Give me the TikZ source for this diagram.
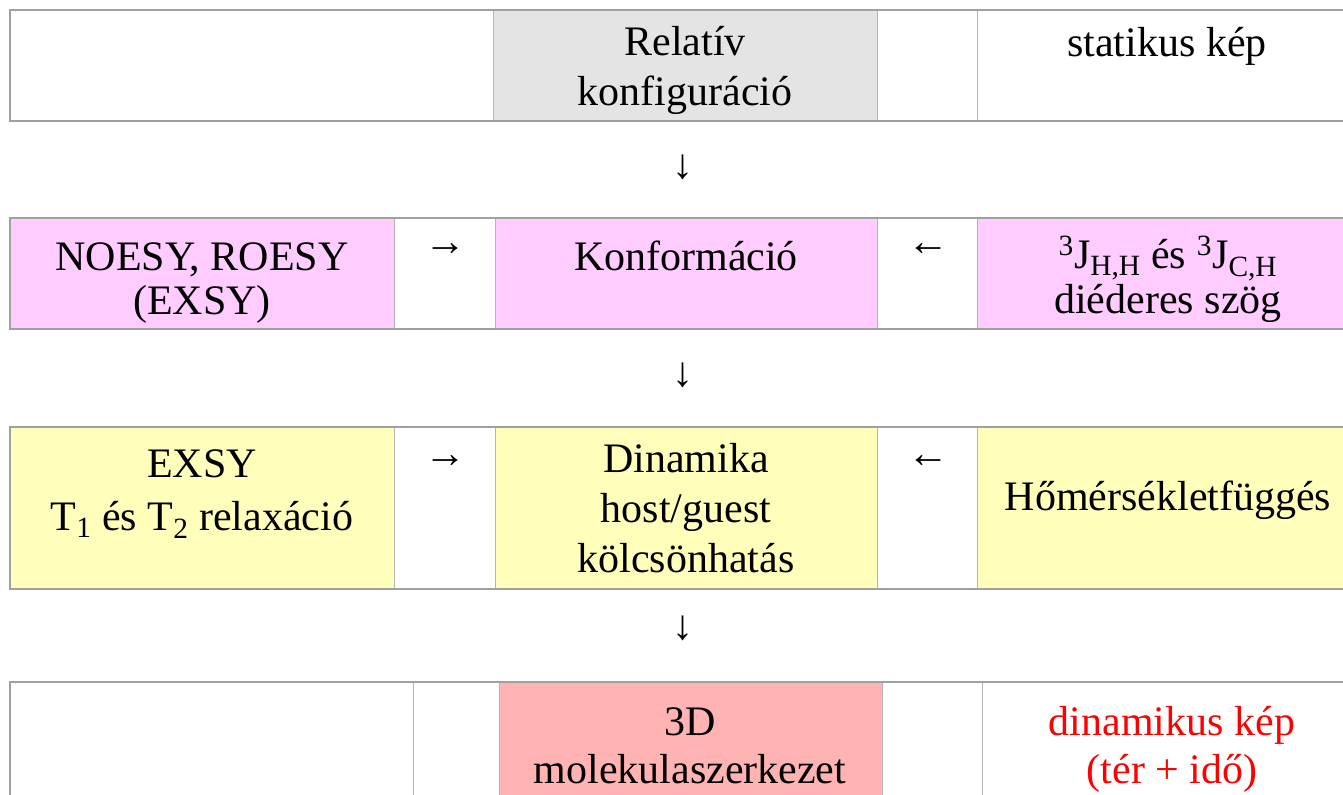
\documentclass[tikz,border=0pt]{standalone}
\usepackage{fontspec}
\setmainfont{Liberation Serif}

\definecolor{framegray}{RGB}{160,160,160}
\definecolor{linegray}{RGB}{180,180,180}
\definecolor{cellgray}{RGB}{228,228,228}
\definecolor{cellpink}{RGB}{255,204,255}
\definecolor{cellyellow}{RGB}{255,255,187}
\definecolor{cellred}{RGB}{255,179,179}

\begin{document}
\begin{tikzpicture}[
    x=0.75pt, y=-0.75pt,
    cell/.style={draw=linegray,line width=0.75pt},
    frame/.style={draw=framegray,line width=1.5pt},
    every node/.style={inner sep=0pt,align=center,
        font=\fontsize{31.5}{37.5}\selectfont}
]

\useasboundingbox (0,0) rectangle (1343,795);

% row 1
\draw[cell,fill=white]    (10,10)  rectangle (493,121);
\draw[cell,fill=cellgray] (493,10) rectangle (877,121);
\draw[cell,fill=white]    (877,10) rectangle (977,121);
\draw[cell,fill=white]    (977,10) rectangle (1360,121);
\draw[frame] (10,10) rectangle (1360,121);

% row 2
\draw[cell,fill=cellpink] (10,218)  rectangle (394,329);
\draw[cell,fill=white]    (394,218) rectangle (495,329);
\draw[cell,fill=cellpink] (495,218) rectangle (877,329);
\draw[cell,fill=white]    (877,218) rectangle (977,329);
\draw[cell,fill=cellpink] (977,218) rectangle (1360,329);
\draw[frame] (10,218) rectangle (1360,329);

% row 3
\draw[cell,fill=cellyellow] (10,427)  rectangle (394,589);
\draw[cell,fill=white]      (394,427) rectangle (495,589);
\draw[cell,fill=cellyellow] (495,427) rectangle (877,589);
\draw[cell,fill=white]      (877,427) rectangle (977,589);
\draw[cell,fill=cellyellow] (977,427) rectangle (1360,589);
\draw[frame] (10,427) rectangle (1360,589);

% row 4
\draw[cell,fill=white]   (10,682)  rectangle (413,830);
\draw[cell,fill=white]   (413,682) rectangle (499,830);
\draw[cell,fill=cellred] (499,682) rectangle (882,830);
\draw[cell,fill=white]   (882,682) rectangle (982,830);
\draw[cell,fill=white]   (982,682) rectangle (1360,830);
\draw[frame] (10,682) rectangle (1360,830);

% base = last line
\node[anchor=base] (relconf) at (685,106) {Relatív\\konfiguráció};
\node[anchor=base] (static) at (1167,57) {statikus kép};
\node (down1) at (683,167) {↓};

\node[anchor=base] (noesy) at (202,315) {NOESY, ROESY\\[-4.5pt](EXSY)};
\node (right1) at (445,250) {→};
\node[anchor=base] (conform) at (686,271) {Konformáció};
\node (left1) at (928,250) {←};
\node[anchor=base] (jcoup) at (1168,313)
    {\textsuperscript{3}J\textsubscript{H,H} és \textsuperscript{3}J\textsubscript{C,H}\\[-3.75pt]diéderes szög};
\node (down2) at (683,375) {↓};

\node[anchor=base] (relax) at (202,530)
    {EXSY\\[2.25pt]T\textsubscript{1} és T\textsubscript{2} relaxáció};
\node (right2) at (445,462) {→};
\node[anchor=base] (dynamic) at (686,572) {Dinamika\\host/guest\\kölcsönhatás};
\node (left2) at (928,462) {←};
\node[anchor=base] (temp) at (1168,510) {Hőmérsékletfüggés};
\node (down3) at (683,628) {↓};

\node[anchor=base] (struct) at (690,783) {3D\\[-1.5pt]molekulaszerkezet};
\node[anchor=base,text=red] (dynpic) at (1172,783) {dinamikus kép\\[-1.5pt](tér + idő)};

\end{tikzpicture}
\end{document}
